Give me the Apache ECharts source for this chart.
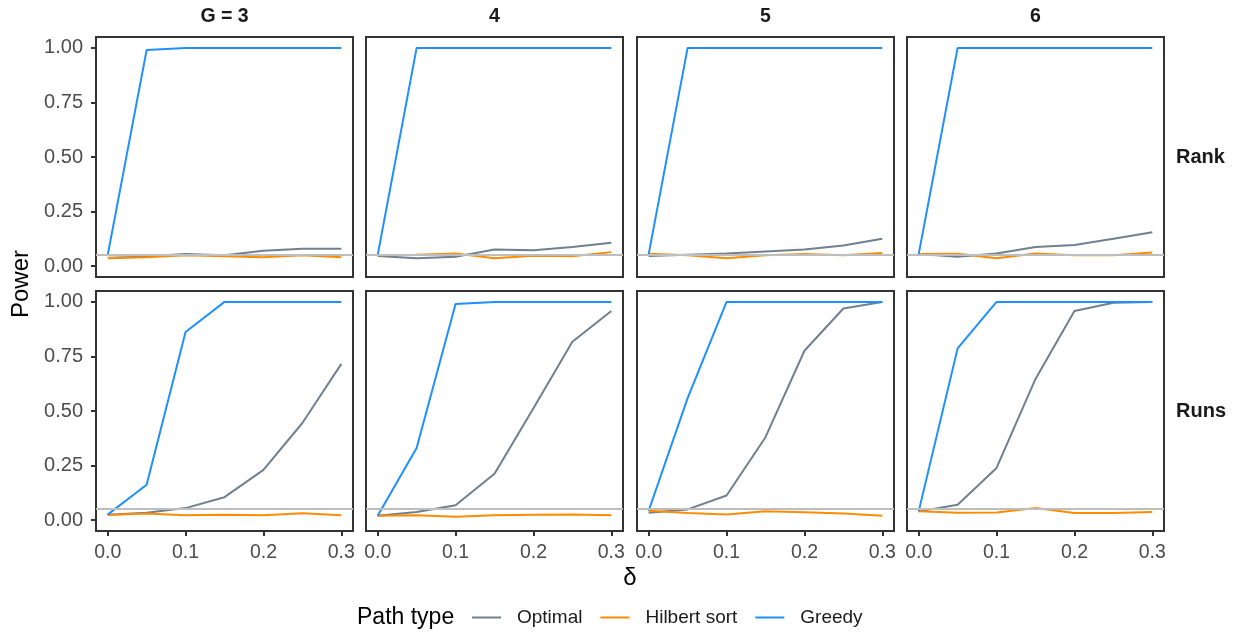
<!DOCTYPE html>
<html><head><meta charset="utf-8">
<script src="https://cdn.jsdelivr.net/npm/echarts@6/dist/echarts.min.js"></script>
<style>html,body{margin:0;padding:0;background:#fff}#c{width:1238px;height:635px}</style>
</head><body><div id="c"></div>
<script>
// ---- data ----
const delta = [0, 0.05, 0.1, 0.15, 0.2, 0.25, 0.3];
const groupLabels = ['G = 3', '4', '5', '6'];
const testLabels = ['Rank', 'Runs'];
const pathTypes = ['Optimal', 'Hilbert sort', 'Greedy'];
const xTicks = [0, 0.1, 0.2, 0.3];
const yTicks = [0, 0.25, 0.5, 0.75, 1];
const alphaLevel = 0.05;

// Rank test
const rankG3Optimal = [0.05, 0.045, 0.055, 0.05, 0.07, 0.08, 0.08];
const rankG3Hilbert = [0.036, 0.04, 0.05, 0.045, 0.04, 0.05, 0.04];
const rankG3Greedy  = [0.05, 0.99, 1, 1, 1, 1, 1];
const rankG4Optimal = [0.046, 0.036, 0.043, 0.076, 0.073, 0.088, 0.107];
const rankG4Hilbert = [0.05, 0.052, 0.058, 0.036, 0.047, 0.045, 0.064];
const rankG4Greedy  = [0.05, 1, 1, 1, 1, 1, 1];
const rankG5Optimal = [0.046, 0.052, 0.058, 0.067, 0.076, 0.094, 0.125];
const rankG5Hilbert = [0.056, 0.05, 0.036, 0.05, 0.055, 0.05, 0.06];
const rankG5Greedy  = [0.055, 1, 1, 1, 1, 1, 1];
const rankG6Optimal = [0.055, 0.043, 0.058, 0.088, 0.097, 0.125, 0.155];
const rankG6Hilbert = [0.055, 0.057, 0.036, 0.058, 0.05, 0.05, 0.062];
const rankG6Greedy  = [0.055, 1, 1, 1, 1, 1, 1];

// Runs test
const runsG3Optimal = [0.025, 0.034, 0.055, 0.105, 0.23, 0.445, 0.716];
const runsG3Hilbert = [0.023, 0.03, 0.022, 0.025, 0.022, 0.031, 0.022];
const runsG3Greedy  = [0.025, 0.162, 0.862, 1, 1, 1, 1];
const runsG4Optimal = [0.02, 0.037, 0.068, 0.212, 0.513, 0.817, 0.958];
const runsG4Hilbert = [0.02, 0.022, 0.015, 0.022, 0.025, 0.026, 0.022];
const runsG4Greedy  = [0.02, 0.33, 0.99, 1, 1, 1, 1];
const runsG5Optimal = [0.034, 0.049, 0.113, 0.38, 0.776, 0.97, 1];
const runsG5Hilbert = [0.043, 0.032, 0.026, 0.04, 0.036, 0.03, 0.02];
const runsG5Greedy  = [0.043, 0.559, 1, 1, 1, 1, 1];
const runsG6Optimal = [0.04, 0.07, 0.239, 0.647, 0.958, 0.996, 1];
const runsG6Hilbert = [0.04, 0.034, 0.035, 0.055, 0.033, 0.033, 0.037];
const runsG6Greedy  = [0.04, 0.787, 1, 1, 1, 1, 1];

const panelData = [
  [[rankG3Optimal, rankG3Hilbert, rankG3Greedy], [rankG4Optimal, rankG4Hilbert, rankG4Greedy],
   [rankG5Optimal, rankG5Hilbert, rankG5Greedy], [rankG6Optimal, rankG6Hilbert, rankG6Greedy]],
  [[runsG3Optimal, runsG3Hilbert, runsG3Greedy], [runsG4Optimal, runsG4Hilbert, runsG4Greedy],
   [runsG5Optimal, runsG5Hilbert, runsG5Greedy], [runsG6Optimal, runsG6Hilbert, runsG6Greedy]]
];

// ---- layout / style ----
const FONT = "'Liberation Sans', Arial, sans-serif";
const colors = ['#708090', '#FF8C00', '#1E90FF'];
const panelLefts = [96, 366, 637, 907];
const panelTops = [37, 291];
const panelW = 257, panelH = 240;

const grids = [], xAxes = [], yAxes = [], series = [];
let idx = 0;
for (let r = 0; r < 2; r++) {
  for (let c = 0; c < 4; c++) {
    grids.push({left: panelLefts[c], top: panelTops[r], width: panelW, height: panelH,
      show: true, borderColor: '#333333', borderWidth: 2, backgroundColor: '#fff'});
    xAxes.push({type: 'value', gridIndex: idx, min: -0.015, max: 0.315, position: 'bottom',
      axisLine: {show: false, onZero: false}, splitLine: {show: false},
      axisTick: {show: r === 1, customValues: xTicks, length: 5, lineStyle: {color: '#333333', width: 2}},
      axisLabel: {show: r === 1, customValues: xTicks, formatter: v => v.toFixed(1),
        color: '#4d4d4d', fontSize: 19.5, fontFamily: FONT, margin: 12}});
    yAxes.push({type: 'value', gridIndex: idx, min: -0.05, max: 1.05, position: 'left',
      axisLine: {show: false, onZero: false}, splitLine: {show: false},
      axisTick: {show: c === 0, customValues: yTicks, length: 5, lineStyle: {color: '#333333', width: 2}},
      axisLabel: {show: c === 0, customValues: yTicks, formatter: v => v.toFixed(2),
        color: '#4d4d4d', fontSize: 20, fontFamily: FONT, margin: 13}});
    const vals = panelData[r][c];
    for (let s = 0; s < 3; s++) {
      const ser = {type: 'line', name: pathTypes[s], xAxisIndex: idx, yAxisIndex: idx,
        data: delta.map((d, i) => [d, vals[s][i]]), showSymbol: false, symbol: 'none',
        lineStyle: {color: colors[s], width: 2}, itemStyle: {color: colors[s]},
        emphasis: {disabled: true}, silent: true, z: 2 + s};
      if (s === 2) {
        ser.markLine = {silent: true, symbol: ['none', 'none'], label: {show: false},
          lineStyle: {color: '#bebebe', width: 2.2, type: 'solid'}, z: 10,
          emphasis: {disabled: true},
          data: [{yAxis: alphaLevel}]};
      }
      series.push(ser);
    }
    idx++;
  }
}

const graphics = [];
for (let c = 0; c < 4; c++) {
  graphics.push({type: 'text', x: panelLefts[c] + panelW / 2, y: 17,
    style: {text: groupLabels[c], font: 'bold 19.5px ' + FONT, fill: '#1a1a1a',
      textAlign: 'center', textVerticalAlign: 'middle'}});
}
for (let r = 0; r < 2; r++) {
  graphics.push({type: 'text', x: 1176, y: panelTops[r] + panelH / 2,
    style: {text: testLabels[r], font: 'bold 20px ' + FONT, fill: '#1a1a1a',
      textAlign: 'left', textVerticalAlign: 'middle'}});
}
graphics.push({type: 'text', x: 21, y: 284, rotation: Math.PI / 2,
  style: {text: 'Power', font: '24px ' + FONT, fill: '#000', textAlign: 'center', textVerticalAlign: 'middle'}});
graphics.push({type: 'text', x: 630, y: 578,
  style: {text: 'δ', font: '24px ' + FONT, fill: '#000', textAlign: 'center', textVerticalAlign: 'middle'}});
graphics.push({type: 'text', x: 357, y: 618,
  style: {text: 'Path type', font: '23px ' + FONT, fill: '#000', textAlign: 'left', textVerticalAlign: 'middle'}});

const chart = echarts.init(document.getElementById('c'), null, {renderer: 'canvas'});
chart.setOption({
  animation: false,
  backgroundColor: '#ffffff',
  grid: grids, xAxis: xAxes, yAxis: yAxes, series: series,
  legend: {data: pathTypes, left: 472, top: 608, padding: 0, icon: 'rect',
    itemWidth: 29, itemHeight: 2, itemGap: 18, selectedMode: false,
    textStyle: {fontSize: 19, fontFamily: FONT, color: '#1a1a1a', padding: [0, 0, 0, 11]}},
  graphic: graphics
});
</script></body></html>
